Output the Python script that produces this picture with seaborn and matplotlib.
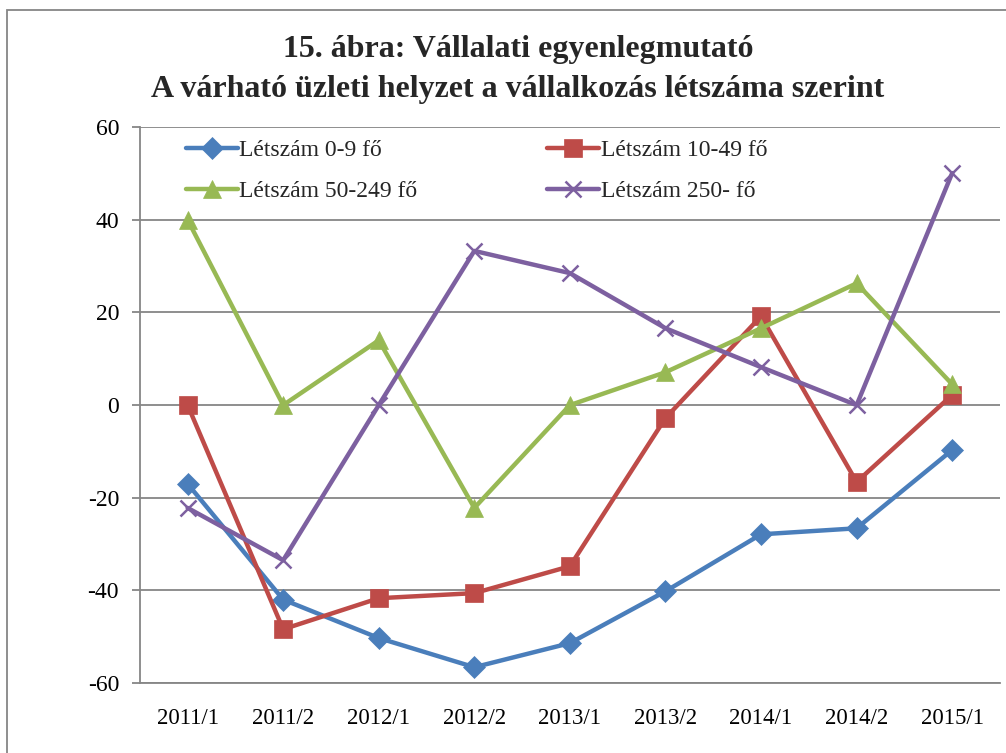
import matplotlib
matplotlib.use("Agg")
import matplotlib.pyplot as plt
import seaborn as sns
import pandas as pd
from matplotlib.patches import Rectangle

periods = ["2011/1", "2011/2", "2012/1", "2012/2", "2013/1", "2013/2", "2014/1", "2014/2", "2015/1"]
s_0_9 = [-17, -42, -50.3, -56.6, -51.4, -40.2, -27.9, -26.6, -9.7]
s_10_49 = [0, -48.4, -41.7, -40.6, -34.8, -2.8, 19.2, -16.6, 2.2]
s_50_249 = [40, 0, 14, -22.2, 0, 7.1, 16.6, 26.3, 4.5]
s_250 = [-22.2, -33.5, 0, 33.3, 28.5, 16.6, 8.2, 0, 50.1]
series_names = ["Létszám 0-9 fő", "Létszám 10-49 fő", "Létszám 50-249 fő", "Létszám 250- fő"]
yticks = [-60, -40, -20, 0, 20, 40, 60]

sns.set_theme(style="white")
plt.rcParams['font.family'] = ['Liberation Serif', 'DejaVu Serif']

rows = []
for name, vals in zip(series_names, [s_0_9, s_10_49, s_50_249, s_250]):
    for p, v in zip(periods, vals):
        rows.append({"period": p, "value": v, "series": name})
df = pd.DataFrame(rows)

colors = ["#4a7ebb", "#be4b48", "#98b954", "#7d60a0"]
markers = ["D", "s", "^", "x"]
msizes = [11, 13, 13, 11]

fig = plt.figure(figsize=(10.06, 7.53), dpi=100)
ax = fig.add_axes([0.139, 0.093, 0.855, 0.738])

for name, c, m, ms in zip(series_names, colors, markers, msizes):
    sub = df[df["series"] == name]
    sns.lineplot(data=sub, x="period", y="value", ax=ax, color=c, linewidth=3.2,
                 marker=m, markersize=ms, markeredgecolor=c,
                 markeredgewidth=(1.8 if m == "x" else 0.5), label=name, sort=False)

ax.set_ylim(-60, 60)
ax.set_xlim(-0.5, len(periods) - 0.5)
ax.set_yticks(yticks)
ax.set_yticklabels([str(t) for t in yticks], fontsize=17)
ax.set_xticks(range(len(periods)))
ax.set_xticklabels(periods, fontsize=16.5)
ax.set_xlabel("")
ax.set_ylabel("")
for t in yticks:
    ax.axhline(t, color="#868686", linewidth=1.3, zorder=0)
for sp in ["top", "right"]:
    ax.spines[sp].set_visible(False)
for sp in ["left", "bottom"]:
    ax.spines[sp].set_color("#868686")
    ax.spines[sp].set_linewidth(1.3)
ax.tick_params(axis="y", which="major", left=True, length=6, color="#868686", width=1.3, pad=9, labelcolor="black")
ax.tick_params(axis="x", bottom=False, pad=12, labelcolor="black")

handles, labels = ax.get_legend_handles_labels()
order = [0, 2, 1, 3]
ax.legend([handles[i] for i in order], [labels[i] for i in order],
          loc="upper left", bbox_to_anchor=(0.034, 1.008), ncol=2, frameon=False,
          fontsize=17, handlelength=2.2, handletextpad=0.08, columnspacing=5.5,
          labelspacing=0.85, borderaxespad=0.3)

fig.text(0.515, 0.908, "15. ábra: Vállalati egyenlegmutató\nA várható üzleti helyzet a vállalkozás létszáma szerint",
         ha="center", va="center", fontsize=23, fontweight="bold", linespacing=1.52)

fig.patches.append(Rectangle((0.007, -0.05), 1.1, 1.037, transform=fig.transFigure,
                             fill=False, edgecolor="#868686", linewidth=1.3))

fig.savefig("out.png", dpi=100)
